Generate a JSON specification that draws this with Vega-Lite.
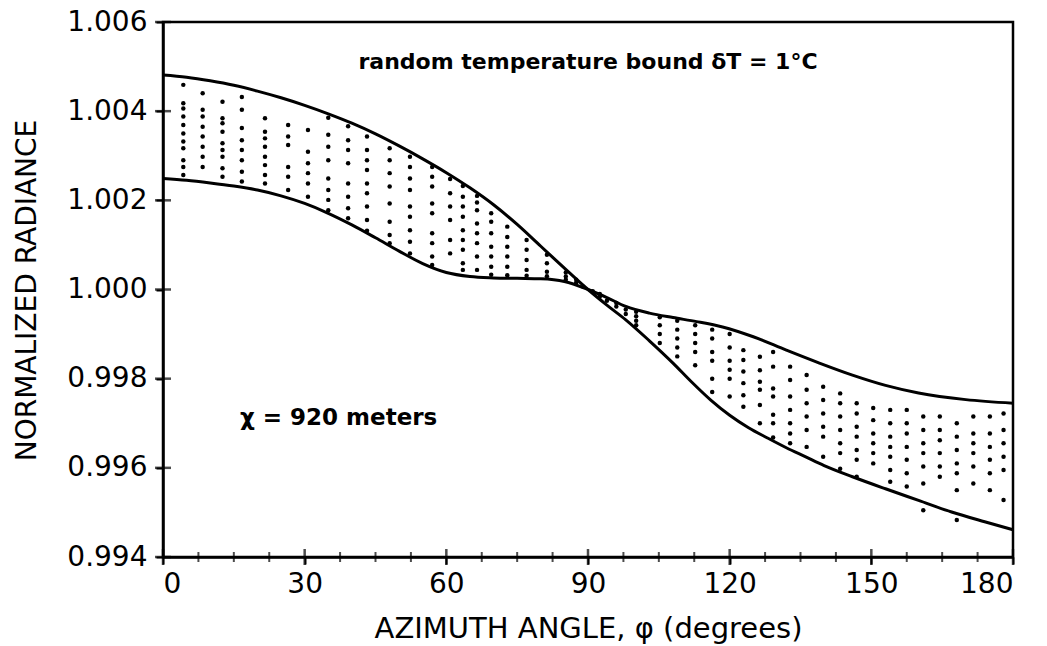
{
  "$schema": "https://vega.github.io/schema/vega-lite/v6.json",
  "autosize": "none",
  "width": 850,
  "height": 535,
  "padding": {"left": 163, "top": 22, "right": 34, "bottom": 89},
  "background": "white",
  "config": {
    "view": {"stroke": "black", "strokeWidth": 2.5},
    "font": "DejaVu Sans",
    "axis": {
      "domainColor": "black", "domainWidth": 2.5,
      "tickColor": "black", "tickWidth": 2, "tickSize": 7,
      "labelColor": "black", "titleColor": "black",
      "labelFont": "DejaVu Sans", "titleFont": "DejaVu Sans",
      "labelFontSize": 28, "titleFontSize": 28, "titleFontWeight": "normal",
      "grid": false
    }
  },
  "datasets": {
    "curves": [
      {"phi": 0, "r": 1.00481, "c": "A"}, {"phi": 5, "r": 1.00476, "c": "A"}, {"phi": 10, "r": 1.00468, "c": "A"},
      {"phi": 15, "r": 1.00458, "c": "A"}, {"phi": 20, "r": 1.00445, "c": "A"}, {"phi": 25, "r": 1.0043, "c": "A"},
      {"phi": 30, "r": 1.00413, "c": "A"}, {"phi": 35, "r": 1.00394, "c": "A"}, {"phi": 40, "r": 1.00373, "c": "A"},
      {"phi": 45, "r": 1.00349, "c": "A"}, {"phi": 50, "r": 1.00322, "c": "A"}, {"phi": 55, "r": 1.00293, "c": "A"},
      {"phi": 60, "r": 1.00262, "c": "A"}, {"phi": 65, "r": 1.00228, "c": "A"}, {"phi": 70, "r": 1.0019, "c": "A"},
      {"phi": 75, "r": 1.00146, "c": "A"}, {"phi": 80, "r": 1.00097, "c": "A"}, {"phi": 85, "r": 1.00048, "c": "A"},
      {"phi": 90, "r": 1.0, "c": "A"}, {"phi": 94, "r": 0.99965, "c": "A"}, {"phi": 98, "r": 0.99932, "c": "A"},
      {"phi": 103, "r": 0.99885, "c": "A"}, {"phi": 108, "r": 0.99835, "c": "A"}, {"phi": 112, "r": 0.99792, "c": "A"},
      {"phi": 116, "r": 0.99752, "c": "A"}, {"phi": 120, "r": 0.99718, "c": "A"}, {"phi": 124, "r": 0.9969, "c": "A"},
      {"phi": 128, "r": 0.99667, "c": "A"}, {"phi": 132, "r": 0.99645, "c": "A"}, {"phi": 136, "r": 0.99625, "c": "A"},
      {"phi": 140, "r": 0.99605, "c": "A"}, {"phi": 146, "r": 0.9958, "c": "A"}, {"phi": 153, "r": 0.99553, "c": "A"},
      {"phi": 160, "r": 0.99527, "c": "A"}, {"phi": 167, "r": 0.99501, "c": "A"}, {"phi": 174, "r": 0.99479, "c": "A"},
      {"phi": 180, "r": 0.99461, "c": "A"},
      {"phi": 0, "r": 1.00249, "c": "B"}, {"phi": 5, "r": 1.00245, "c": "B"}, {"phi": 10, "r": 1.00239, "c": "B"},
      {"phi": 15, "r": 1.00232, "c": "B"}, {"phi": 20, "r": 1.00223, "c": "B"}, {"phi": 25, "r": 1.0021, "c": "B"},
      {"phi": 30, "r": 1.00193, "c": "B"}, {"phi": 35, "r": 1.00171, "c": "B"}, {"phi": 40, "r": 1.00145, "c": "B"},
      {"phi": 45, "r": 1.00116, "c": "B"}, {"phi": 50, "r": 1.00086, "c": "B"}, {"phi": 55, "r": 1.00058, "c": "B"},
      {"phi": 60, "r": 1.00038, "c": "B"}, {"phi": 65, "r": 1.00029, "c": "B"}, {"phi": 70, "r": 1.00026, "c": "B"},
      {"phi": 75, "r": 1.00025, "c": "B"}, {"phi": 80, "r": 1.00024, "c": "B"}, {"phi": 85, "r": 1.00018, "c": "B"},
      {"phi": 90, "r": 1.0, "c": "B"}, {"phi": 94, "r": 0.99982, "c": "B"}, {"phi": 98, "r": 0.99962, "c": "B"},
      {"phi": 103, "r": 0.99947, "c": "B"}, {"phi": 108, "r": 0.99937, "c": "B"}, {"phi": 113, "r": 0.99928, "c": "B"},
      {"phi": 118.5, "r": 0.99916, "c": "B"}, {"phi": 125, "r": 0.99894, "c": "B"}, {"phi": 132, "r": 0.99864, "c": "B"},
      {"phi": 139, "r": 0.99835, "c": "B"}, {"phi": 146, "r": 0.99808, "c": "B"}, {"phi": 153, "r": 0.99785, "c": "B"},
      {"phi": 160, "r": 0.99768, "c": "B"}, {"phi": 170, "r": 0.99753, "c": "B"}, {"phi": 180, "r": 0.99745, "c": "B"}
    ],
    "dots": [
      {"phi": 4.3, "r": 1.00459}, {"phi": 4.3, "r": 1.00418}, {"phi": 4.3, "r": 1.00406}, {"phi": 4.3, "r": 1.00388}, {"phi": 4.3, "r": 1.00369}, {"phi": 4.3, "r": 1.0035}, {"phi": 4.3, "r": 1.00332}, {"phi": 4.3, "r": 1.00317}, {"phi": 4.3, "r": 1.0029}, {"phi": 4.3, "r": 1.00275}, {"phi": 4.3, "r": 1.00257},
      {"phi": 8.4, "r": 1.0044}, {"phi": 8.4, "r": 1.00403}, {"phi": 8.4, "r": 1.00388}, {"phi": 8.4, "r": 1.00365}, {"phi": 8.4, "r": 1.00343}, {"phi": 8.4, "r": 1.0032}, {"phi": 8.4, "r": 1.00298}, {"phi": 8.4, "r": 1.00275},
      {"phi": 12.6, "r": 1.00421}, {"phi": 12.6, "r": 1.00384}, {"phi": 12.6, "r": 1.00373}, {"phi": 12.6, "r": 1.00354}, {"phi": 12.6, "r": 1.00328}, {"phi": 12.6, "r": 1.00313}, {"phi": 12.6, "r": 1.00298}, {"phi": 12.6, "r": 1.00272}, {"phi": 12.6, "r": 1.00253},
      {"phi": 16.7, "r": 1.00432}, {"phi": 16.7, "r": 1.00403}, {"phi": 16.7, "r": 1.00362}, {"phi": 16.7, "r": 1.00335}, {"phi": 16.7, "r": 1.00313}, {"phi": 16.7, "r": 1.0029}, {"phi": 16.7, "r": 1.00264}, {"phi": 16.7, "r": 1.00242},
      {"phi": 21.6, "r": 1.00384}, {"phi": 21.6, "r": 1.00354}, {"phi": 21.6, "r": 1.00339}, {"phi": 21.6, "r": 1.0032}, {"phi": 21.6, "r": 1.00298}, {"phi": 21.6, "r": 1.00279}, {"phi": 21.6, "r": 1.00257}, {"phi": 21.6, "r": 1.00238},
      {"phi": 26.5, "r": 1.00369}, {"phi": 26.5, "r": 1.00343}, {"phi": 26.5, "r": 1.00324}, {"phi": 26.5, "r": 1.00275}, {"phi": 26.5, "r": 1.00253}, {"phi": 26.5, "r": 1.00223},
      {"phi": 30.7, "r": 1.00358}, {"phi": 30.7, "r": 1.00309}, {"phi": 30.7, "r": 1.00283}, {"phi": 30.7, "r": 1.00261}, {"phi": 30.7, "r": 1.00238}, {"phi": 30.7, "r": 1.00208},
      {"phi": 35, "r": 1.00385}, {"phi": 35, "r": 1.00347}, {"phi": 35, "r": 1.0032}, {"phi": 35, "r": 1.0029}, {"phi": 35, "r": 1.00249}, {"phi": 35, "r": 1.00223}, {"phi": 35, "r": 1.00201}, {"phi": 35, "r": 1.00178},
      {"phi": 39.2, "r": 1.00366}, {"phi": 39.2, "r": 1.00335}, {"phi": 39.2, "r": 1.00313}, {"phi": 39.2, "r": 1.00283}, {"phi": 39.2, "r": 1.00238}, {"phi": 39.2, "r": 1.00208}, {"phi": 39.2, "r": 1.00182}, {"phi": 39.2, "r": 1.0016},
      {"phi": 43.2, "r": 1.00343}, {"phi": 43.2, "r": 1.00313}, {"phi": 43.2, "r": 1.0029}, {"phi": 43.2, "r": 1.00268}, {"phi": 43.2, "r": 1.00238}, {"phi": 43.2, "r": 1.00216}, {"phi": 43.2, "r": 1.00186}, {"phi": 43.2, "r": 1.00156}, {"phi": 43.2, "r": 1.00132},
      {"phi": 48, "r": 1.00317}, {"phi": 48, "r": 1.0029}, {"phi": 48, "r": 1.00261}, {"phi": 48, "r": 1.00231}, {"phi": 48, "r": 1.00193}, {"phi": 48, "r": 1.00152}, {"phi": 48, "r": 1.00122}, {"phi": 48, "r": 1.00104},
      {"phi": 52.3, "r": 1.00298}, {"phi": 52.3, "r": 1.00275}, {"phi": 52.3, "r": 1.00249}, {"phi": 52.3, "r": 1.00223}, {"phi": 52.3, "r": 1.00186}, {"phi": 52.3, "r": 1.00163}, {"phi": 52.3, "r": 1.00133}, {"phi": 52.3, "r": 1.00107}, {"phi": 52.3, "r": 1.00081},
      {"phi": 57, "r": 1.00275}, {"phi": 57, "r": 1.00253}, {"phi": 57, "r": 1.00231}, {"phi": 57, "r": 1.00193}, {"phi": 57, "r": 1.00171}, {"phi": 57, "r": 1.00126}, {"phi": 57, "r": 1.00104}, {"phi": 57, "r": 1.00074}, {"phi": 57, "r": 1.00055},
      {"phi": 60.8, "r": 1.00248}, {"phi": 60.8, "r": 1.00216}, {"phi": 60.8, "r": 1.00186}, {"phi": 60.8, "r": 1.00156}, {"phi": 60.8, "r": 1.00111}, {"phi": 60.8, "r": 1.00081},
      {"phi": 63.5, "r": 1.00232}, {"phi": 63.5, "r": 1.00208}, {"phi": 63.5, "r": 1.00186}, {"phi": 63.5, "r": 1.00163}, {"phi": 63.5, "r": 1.00133}, {"phi": 63.5, "r": 1.00111}, {"phi": 63.5, "r": 1.00089}, {"phi": 63.5, "r": 1.00059}, {"phi": 63.5, "r": 1.00044},
      {"phi": 66.5, "r": 1.0021}, {"phi": 66.5, "r": 1.00195}, {"phi": 66.5, "r": 1.00178}, {"phi": 66.5, "r": 1.00148}, {"phi": 66.5, "r": 1.00126}, {"phi": 66.5, "r": 1.00104}, {"phi": 66.5, "r": 1.00074}, {"phi": 66.5, "r": 1.00044},
      {"phi": 69.5, "r": 1.00171}, {"phi": 69.5, "r": 1.00152}, {"phi": 69.5, "r": 1.00126}, {"phi": 69.5, "r": 1.00096}, {"phi": 69.5, "r": 1.00074}, {"phi": 69.5, "r": 1.00051}, {"phi": 69.5, "r": 1.00033},
      {"phi": 72.9, "r": 1.00141}, {"phi": 72.9, "r": 1.00118}, {"phi": 72.9, "r": 1.00096}, {"phi": 72.9, "r": 1.00074}, {"phi": 72.9, "r": 1.00051}, {"phi": 72.9, "r": 1.00032},
      {"phi": 77, "r": 1.00111}, {"phi": 77, "r": 1.00089}, {"phi": 77, "r": 1.00066}, {"phi": 77, "r": 1.00044}, {"phi": 77, "r": 1.00031},
      {"phi": 81.3, "r": 1.00078}, {"phi": 81.3, "r": 1.00059}, {"phi": 81.3, "r": 1.0004}, {"phi": 81.3, "r": 1.0003},
      {"phi": 85.3, "r": 1.00038}, {"phi": 85.3, "r": 1.00029}, {"phi": 85.3, "r": 1.00022},
      {"phi": 87.5, "r": 1.00022}, {"phi": 87.5, "r": 1.00015}, {"phi": 89, "r": 1.00006}, {"phi": 91, "r": 0.99996},
      {"phi": 92.5, "r": 0.9999}, {"phi": 92.5, "r": 0.99984}, {"phi": 94, "r": 0.99975}, {"phi": 96, "r": 0.99962}, {"phi": 96, "r": 0.9997}, {"phi": 98, "r": 0.99955}, {"phi": 98, "r": 0.99945},
      {"phi": 100.2, "r": 0.9995}, {"phi": 100.2, "r": 0.9994}, {"phi": 100.2, "r": 0.9993}, {"phi": 100.2, "r": 0.9992},
      {"phi": 105.2, "r": 0.99938}, {"phi": 105.2, "r": 0.9992}, {"phi": 105.2, "r": 0.999}, {"phi": 105.2, "r": 0.9988},
      {"phi": 108.9, "r": 0.9993}, {"phi": 108.9, "r": 0.9991}, {"phi": 108.9, "r": 0.9989}, {"phi": 108.9, "r": 0.9987}, {"phi": 108.9, "r": 0.9985},
      {"phi": 112.7, "r": 0.9992}, {"phi": 112.7, "r": 0.999}, {"phi": 112.7, "r": 0.9988}, {"phi": 112.7, "r": 0.9986}, {"phi": 112.7, "r": 0.9983},
      {"phi": 116.3, "r": 0.9991}, {"phi": 116.3, "r": 0.9989}, {"phi": 116.3, "r": 0.9986}, {"phi": 116.3, "r": 0.9984}, {"phi": 116.3, "r": 0.998}, {"phi": 116.3, "r": 0.9977},
      {"phi": 120, "r": 0.999}, {"phi": 120, "r": 0.9987}, {"phi": 120, "r": 0.9984}, {"phi": 120, "r": 0.9982}, {"phi": 120, "r": 0.998}, {"phi": 120, "r": 0.9976},
      {"phi": 122.9, "r": 0.99864}, {"phi": 122.9, "r": 0.99842}, {"phi": 122.9, "r": 0.99816}, {"phi": 122.9, "r": 0.9979}, {"phi": 122.9, "r": 0.99763}, {"phi": 122.9, "r": 0.99737},
      {"phi": 126.4, "r": 0.99849}, {"phi": 126.4, "r": 0.99819}, {"phi": 126.4, "r": 0.99793}, {"phi": 126.4, "r": 0.99775}, {"phi": 126.4, "r": 0.99741}, {"phi": 126.4, "r": 0.997},
      {"phi": 129.2, "r": 0.9986}, {"phi": 129.2, "r": 0.99827}, {"phi": 129.2, "r": 0.99778}, {"phi": 129.2, "r": 0.9976}, {"phi": 129.2, "r": 0.99719}, {"phi": 129.2, "r": 0.997}, {"phi": 129.2, "r": 0.99668},
      {"phi": 132.8, "r": 0.99827}, {"phi": 132.8, "r": 0.99797}, {"phi": 132.8, "r": 0.9976}, {"phi": 132.8, "r": 0.9973}, {"phi": 132.8, "r": 0.997}, {"phi": 132.8, "r": 0.99677}, {"phi": 132.8, "r": 0.99655},
      {"phi": 136.3, "r": 0.99808}, {"phi": 136.3, "r": 0.99775}, {"phi": 136.3, "r": 0.99745}, {"phi": 136.3, "r": 0.99715}, {"phi": 136.3, "r": 0.99685}, {"phi": 136.3, "r": 0.99647},
      {"phi": 139.8, "r": 0.99782}, {"phi": 139.8, "r": 0.99752}, {"phi": 139.8, "r": 0.99722}, {"phi": 139.8, "r": 0.99692}, {"phi": 139.8, "r": 0.9967}, {"phi": 139.8, "r": 0.99625},
      {"phi": 143.4, "r": 0.99767}, {"phi": 143.4, "r": 0.99745}, {"phi": 143.4, "r": 0.99715}, {"phi": 143.4, "r": 0.99685}, {"phi": 143.4, "r": 0.99655}, {"phi": 143.4, "r": 0.99633}, {"phi": 143.4, "r": 0.99598},
      {"phi": 146.9, "r": 0.99745}, {"phi": 146.9, "r": 0.99722}, {"phi": 146.9, "r": 0.99692}, {"phi": 146.9, "r": 0.9967}, {"phi": 146.9, "r": 0.9964}, {"phi": 146.9, "r": 0.99618}, {"phi": 146.9, "r": 0.9958},
      {"phi": 150.4, "r": 0.99734}, {"phi": 150.4, "r": 0.99707}, {"phi": 150.4, "r": 0.99677}, {"phi": 150.4, "r": 0.99655}, {"phi": 150.4, "r": 0.99633}, {"phi": 150.4, "r": 0.9961},
      {"phi": 154, "r": 0.9973}, {"phi": 154, "r": 0.997}, {"phi": 154, "r": 0.9967}, {"phi": 154, "r": 0.99647}, {"phi": 154, "r": 0.99625}, {"phi": 154, "r": 0.99595}, {"phi": 154, "r": 0.99569},
      {"phi": 157.5, "r": 0.9973}, {"phi": 157.5, "r": 0.997}, {"phi": 157.5, "r": 0.99677}, {"phi": 157.5, "r": 0.99647}, {"phi": 157.5, "r": 0.99618}, {"phi": 157.5, "r": 0.99588}, {"phi": 157.5, "r": 0.99558},
      {"phi": 161, "r": 0.99715}, {"phi": 161, "r": 0.99685}, {"phi": 161, "r": 0.99655}, {"phi": 161, "r": 0.99633}, {"phi": 161, "r": 0.99603}, {"phi": 161, "r": 0.99565}, {"phi": 161, "r": 0.99505},
      {"phi": 164.5, "r": 0.99715}, {"phi": 164.5, "r": 0.99685}, {"phi": 164.5, "r": 0.99662}, {"phi": 164.5, "r": 0.99633}, {"phi": 164.5, "r": 0.99603}, {"phi": 164.5, "r": 0.9958},
      {"phi": 168.1, "r": 0.997}, {"phi": 168.1, "r": 0.9967}, {"phi": 168.1, "r": 0.9964}, {"phi": 168.1, "r": 0.9961}, {"phi": 168.1, "r": 0.99588}, {"phi": 168.1, "r": 0.9955}, {"phi": 168.1, "r": 0.99483},
      {"phi": 171.6, "r": 0.99715}, {"phi": 171.6, "r": 0.99677}, {"phi": 171.6, "r": 0.99655}, {"phi": 171.6, "r": 0.99633}, {"phi": 171.6, "r": 0.99603}, {"phi": 171.6, "r": 0.99565},
      {"phi": 175.1, "r": 0.99715}, {"phi": 175.1, "r": 0.99677}, {"phi": 175.1, "r": 0.99647}, {"phi": 175.1, "r": 0.99618}, {"phi": 175.1, "r": 0.99588}, {"phi": 175.1, "r": 0.9955},
      {"phi": 178, "r": 0.99722}, {"phi": 178, "r": 0.99685}, {"phi": 178, "r": 0.99655}, {"phi": 178, "r": 0.99625}, {"phi": 178, "r": 0.99595}, {"phi": 178, "r": 0.99528}
    ],
    "xminor": [
      {"phi": 7.5}, {"phi": 15}, {"phi": 22.5}, {"phi": 37.5}, {"phi": 45}, {"phi": 52.5},
      {"phi": 67.5}, {"phi": 75}, {"phi": 82.5}, {"phi": 97.5}, {"phi": 105}, {"phi": 112.5},
      {"phi": 127.5}, {"phi": 135}, {"phi": 142.5}, {"phi": 157.5}, {"phi": 165}, {"phi": 172.5}
    ],
    "xmajor": [{"phi": 0}, {"phi": 30}, {"phi": 60}, {"phi": 90}, {"phi": 120}, {"phi": 150}, {"phi": 180}],
    "ymajor": [{"r": 0.994}, {"r": 0.996}, {"r": 0.998}, {"r": 1.0}, {"r": 1.002}, {"r": 1.004}, {"r": 1.006}],
    "one": [{"k": 1}]
  },
  "layer": [
    {
      "data": {"name": "dots"},
      "mark": {"type": "point", "filled": true, "color": "black", "size": 20, "opacity": 1},
      "encoding": {
        "x": {
          "field": "phi", "type": "quantitative",
          "scale": {"domain": [0, 180], "nice": false, "zero": false},
          "axis": {
            "values": [0, 30, 60, 90, 120, 150, 180],
            "labelPadding": 6,
            "title": "AZIMUTH ANGLE, φ (degrees)",
            "titleFontSize": 29,
            "titleX": 425, "titleY": 71, "titleBaseline": "middle", "titleAlign": "center"
          }
        },
        "y": {
          "field": "r", "type": "quantitative",
          "scale": {"domain": [0.994, 1.006], "nice": false, "zero": false},
          "axis": {
            "values": [0.994, 0.996, 0.998, 1.0, 1.002, 1.004, 1.006],
            "format": ".3f",
            "labelPadding": 9,
            "title": "NORMALIZED RADIANCE",
            "titleX": -136, "titleY": 268, "titleBaseline": "middle", "titleAlign": "center", "titleAngle": -90
          }
        }
      }
    },
    {
      "data": {"name": "curves"},
      "mark": {"type": "line", "color": "black", "strokeWidth": 3, "interpolate": "monotone"},
      "encoding": {
        "x": {"field": "phi", "type": "quantitative"},
        "y": {"field": "r", "type": "quantitative"},
        "detail": {"field": "c"}
      }
    },
    {
      "data": {"name": "xminor"},
      "mark": {"type": "tick", "orient": "vertical", "color": "black", "size": 10, "thickness": 2},
      "encoding": {
        "x": {"field": "phi", "type": "quantitative"},
        "y": {"datum": 0.994}
      }
    },
    {
      "data": {"name": "xmajor"},
      "mark": {"type": "tick", "orient": "vertical", "color": "black", "size": 16, "thickness": 2.5},
      "encoding": {
        "x": {"field": "phi", "type": "quantitative"},
        "y": {"datum": 0.994}
      }
    },
    {
      "data": {"name": "ymajor"},
      "mark": {"type": "tick", "orient": "horizontal", "color": "black", "size": 16, "thickness": 2.5},
      "encoding": {
        "x": {"datum": 0},
        "y": {"field": "r", "type": "quantitative"}
      }
    },
    {
      "data": {"name": "one"},
      "mark": {"type": "text", "font": "DejaVu Sans", "fontWeight": "bold", "fontSize": 22, "align": "center", "baseline": "middle", "color": "black"},
      "encoding": {
        "x": {"datum": 90},
        "y": {"datum": 1.0051},
        "text": {"value": "random temperature bound δT = 1°C"}
      }
    },
    {
      "data": {"name": "one"},
      "mark": {"type": "text", "font": "DejaVu Sans", "fontWeight": "bold", "fontSize": 23, "align": "left", "baseline": "middle", "color": "black"},
      "encoding": {
        "x": {"datum": 16.3},
        "y": {"datum": 0.99712},
        "text": {"value": "χ = 920 meters"}
      }
    }
  ]
}
